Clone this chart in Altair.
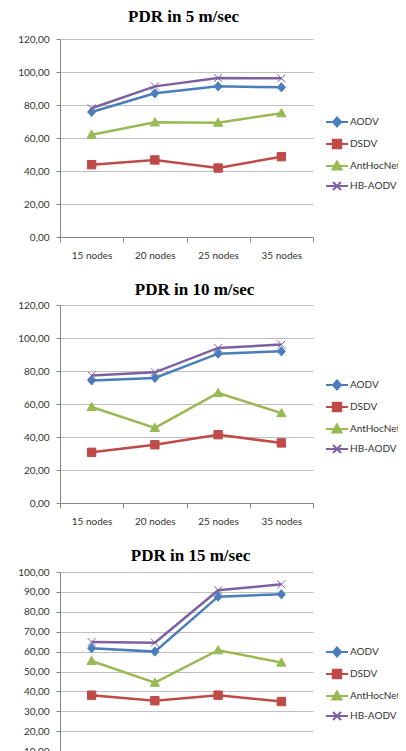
import altair as alt
import pandas as pd

nodes = ["15 nodes", "20 nodes", "25 nodes", "35 nodes"]
series = ["AODV", "DSDV", "AntHocNet", "HB-AODV"]
colors = ["#4A7EBB", "#BE4B48", "#98B954", "#7D60A0"]

# PDR in 5 m/sec
aodv_5 = [75.8, 87.1, 91.3, 90.7]
dsdv_5 = [43.8, 46.7, 41.8, 48.7]
ant_5 = [62.0, 69.5, 69.3, 75.0]
hb_5 = [78.0, 91.3, 96.4, 96.2]

# PDR in 10 m/sec
aodv_10 = [74.3, 75.8, 90.5, 91.9]
dsdv_10 = [30.7, 35.3, 41.4, 36.4]
ant_10 = [58.2, 45.5, 66.7, 54.5]
hb_10 = [77.3, 79.2, 94.0, 96.0]

# PDR in 15 m/sec
aodv_15 = [61.7, 60.0, 87.6, 88.8]
dsdv_15 = [38.1, 35.3, 38.1, 34.9]
ant_15 = [55.3, 44.4, 60.7, 54.5]
hb_15 = [64.8, 64.5, 90.8, 93.8]

titles = ["PDR in 5 m/sec", "PDR in 10 m/sec", "PDR in 15 m/sec"]

# marker shapes (unit paths) for plot points
point_shapes = [
    "M0,-1.15L1,0L0,1.15L-1,0Z",
    "M-1.05,-1.05H1.05V1.05H-1.05Z",
    "M0,-1.15L1.15,0.9H-1.15Z",
    "M-1,-1L1,1M-1,1L1,-1",
]
# legend symbols: line segment + marker
legend_shapes = ["M-2.75,0H2.75" + p for p in point_shapes]


def make_df(vals):
    rows = []
    for s, v in zip(series, vals):
        for n, y in zip(nodes, v):
            rows.append({"node": n, "series": s, "value": y})
    return pd.DataFrame(rows)


label_font = "Lato"
label_color = "#333333"


def legend_params(ly):
    return alt.Legend(
        title=None, orient="none", legendX=272, legendY=ly, padding=0,
        rowPadding=4, symbolSize=64, symbolStrokeWidth=2, labelOffset=8,
        labelFont=label_font, labelFontSize=10, labelColor=label_color,
        symbolOpacity=1,
    )


def panel(vals, title, ymax, ystep, h, toffset, tdx, ly):
    df = make_df(vals)
    base = alt.Chart(df).encode(
        x=alt.X(
            "node:N",
            sort=nodes,
            scale=alt.Scale(type="band", paddingInner=0, paddingOuter=0),
            axis=alt.Axis(
                title=None, labelAngle=0, tickBand="extent", tickSize=5,
                labelPadding=8, grid=False,
            ),
        ),
        y=alt.Y(
            "value:Q",
            scale=alt.Scale(domain=[0, ymax], nice=False),
            axis=alt.Axis(
                title=None, values=list(range(0, ymax + 1, ystep)), tickSize=4,
                labelPadding=7, grid=True,
                labelExpr="replace(format(datum.value, '.2f'), '.', ',')",
            ),
        ),
    )
    layers = []
    for s, c in zip(series, colors):
        layers.append(
            base.transform_filter(alt.datum.series == s)
            .mark_line(strokeWidth=2.5, color=c)
        )
    for s, c, shp in zip(series, colors, point_shapes):
        layers.append(
            base.transform_filter(alt.datum.series == s)
            .mark_point(filled=True, size=64, strokeWidth=1, opacity=1,
                        shape=shp, fill=c, stroke=c)
        )
    # legend-only layer (no data drawn): line segment + marker symbols
    cscale = alt.Scale(domain=series, range=colors)
    leg = (
        base.transform_filter("false")
        .mark_point(filled=True, size=64, strokeWidth=2, opacity=1)
        .encode(
            shape=alt.Shape("series:N", sort=series,
                            scale=alt.Scale(domain=series, range=legend_shapes),
                            legend=legend_params(ly)),
            color=alt.Color("series:N", sort=series, scale=cscale, legend=legend_params(ly)),
            stroke=alt.Stroke("series:N", sort=series, scale=cscale, legend=legend_params(ly)),
        )
    )
    layers.append(leg)
    return alt.layer(*layers).properties(
        width=253, height=h,
        title=alt.TitleParams(
            title, font="Liberation Serif", fontSize=17, fontWeight="bold",
            color="#000000", anchor="middle", offset=toffset, dx=tdx,
        ),
    )


p1 = panel([aodv_5, dsdv_5, ant_5, hb_5], titles[0], 120, 20, 198, 8, -3, 78)
p2 = panel([aodv_10, dsdv_10, ant_10, hb_10], titles[1], 120, 20, 198, 1, 8, 75)
p3 = panel([aodv_15, dsdv_15, ant_15, hb_15], titles[2], 100, 10, 199, 2, 4, 75)

chart = (
    alt.vconcat(p1, p2, p3, spacing=21)
    .resolve_legend(color="independent", shape="independent", stroke="independent")
    .properties(padding={"left": 9, "top": 0, "right": -3, "bottom": 0}, background="white")
    .configure_view(stroke=None)
    .configure_axis(
        labelFont=label_font, labelFontSize=10, labelColor=label_color,
        domainColor="#868686", tickColor="#868686", gridColor="#BFBFBF",
        domainWidth=1, tickWidth=1, gridWidth=1,
    )
)

chart.save("out.html", embed_options={"renderer": "svg", "actions": False})
